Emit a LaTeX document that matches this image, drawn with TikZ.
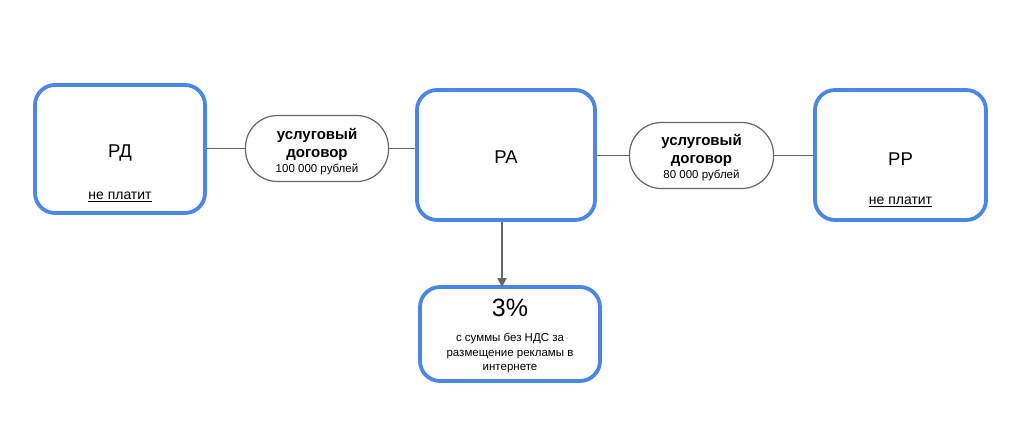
\documentclass[tikz,border=0pt]{standalone}
\usepackage{fontspec}
\setmainfont{Liberation Sans}
\usetikzlibrary{arrows.meta}
\definecolor{gblue}{HTML}{4A86E8}
\definecolor{lgray}{HTML}{666666}
\tikzset{
  party/.style={draw=gblue, line width=3.8pt, rounded corners=20pt, inner sep=0pt},
  deal/.style={draw=lgray, line width=1.2pt, rounded corners=32pt, inner sep=0pt},
  link/.style={draw=lgray, line width=1.5pt},
  dealtext/.style={align=center, font=\fontsize{15}{18}\selectfont\bfseries},
}
\begin{document}
\begin{tikzpicture}[x=1pt,y=-1pt]
    \useasboundingbox(0,0)rectangle(1024,426);
    % parties
    \node[party, minimum width=170pt, minimum height=128pt](rd)at(120,149){};
    \node[party, minimum width=178pt, minimum height=130pt](ra)at(506,155){};
    \node[party, minimum width=171pt, minimum height=130pt](rr)at(900.5,155){};
    \node[party, minimum width=180pt, minimum height=94pt](pct)at(510,334){};
    % contracts
    \node[deal, minimum width=143pt, minimum height=66pt](d1)at(317,148.5){};
    \node[deal, minimum width=144pt, minimum height=66pt](d2)at(701.5,155.5){};
    % texts
    \node[font=\fontsize{18.5}{20}\selectfont](rdname)at(120,153){РД};
    \node[font=\fontsize{14}{16}\selectfont](rdpay)at(120,197){\underline{не платит}};
    \node[font=\fontsize{18.5}{20}\selectfont](raname)at(506,157){РА};
    \node[font=\fontsize{18.5}{20}\selectfont](rrname)at(900.5,159){РР};
    \node[font=\fontsize{14}{16}\selectfont](rrpay)at(900.5,202){\underline{не платит}};
    \node[dealtext](d1text)at(317,152){услуговый\\договор\\[-3pt]{\fontsize{11.5}{14}\selectfont\mdseries 100 000 рублей}};
    \node[dealtext](d2text)at(701.5,157.5){услуговый\\договор\\[-3pt]{\fontsize{11.5}{14}\selectfont\mdseries 80 000 рублей}};
    \node[font=\fontsize{25}{28}\selectfont](pctval)at(510,308){3\%};
    \node[align=center, font=\fontsize{11.5}{14.5}\selectfont](pctnote)at(510,353){с суммы без НДС за\\размещение рекламы в\\интернете};
    % connectors
    \draw[link](rd.east|-d1.west)--(d1.west);
    \draw[link](d1.east)--(d1.east-|ra.west);
    \draw[link](ra.east|-d2.west)--(d2.west);
    \draw[link](d2.east)--(d2.east-|rr.west);
    \draw[link, -{Triangle[width=9pt,length=9pt]}]([xshift=-4pt]ra.south)--([xshift=-4pt, yshift=-2pt]ra.south|-pct.north);
\end{tikzpicture}
\end{document}
